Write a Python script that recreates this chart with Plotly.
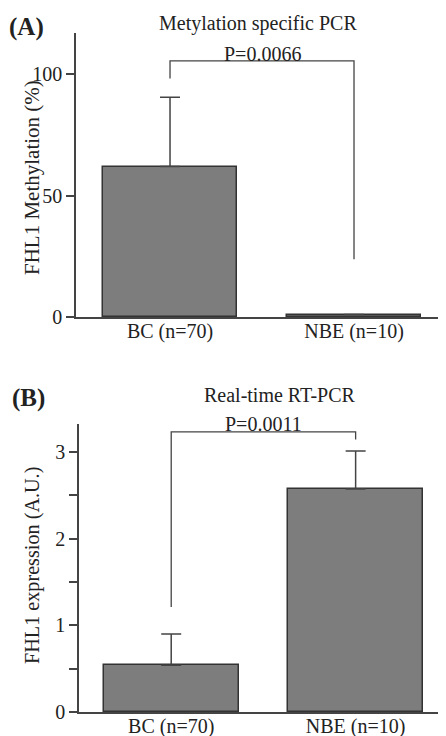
import plotly.graph_objects as go

# ---- data ----
categories = ["BC (n=70)", "NBE (n=10)"]
cat_pos = [0, 1]

meth_values = [62.0, 1.0]
meth_err_up = [28.5, 0.0]
meth_bracket_y = [98.3, 105.5, 105.5, 23.8]
meth_p = "P=0.0066"
meth_ticks = [0, 50, 100]

expr_values = [0.54, 2.57]
expr_err_up = [0.36, 0.44]
expr_bracket_y = [1.21, 3.23, 3.23, 3.14]
expr_p = "P=0.0011"
expr_ticks = [0, 0.5, 1, 1.5, 2, 2.5, 3]
expr_ticktext = ["0", "", "1", "", "2", "", "3"]

FONT = "Liberation Serif"
BAR = "#7d7d7d"
EDGE = "#333333"
LINE = "#444444"
TXT = "#222222"
# the page body has an 8px margin; the figure is sized/placed to compensate
OFF = 8
W, H = 446 - OFF, 736 - OFF

def fx(px):
    return (px - OFF) / W

def fy(py):
    return 1 - (py - OFF) / H

fig = go.Figure()

def add_panel(xa, ya, values, err, bracket_y):
    fig.add_trace(go.Bar(
        x=cat_pos, y=values, width=0.73,
        marker=dict(color=BAR, line=dict(color=EDGE, width=1.5)),
        error_y=dict(type="data", symmetric=False, array=err,
                     arrayminus=[0] * len(err), color=LINE,
                     thickness=1.5, width=10, visible=True),
        xaxis=xa, yaxis=ya, showlegend=False, hoverinfo="skip"))
    fig.add_trace(go.Scatter(
        x=[cat_pos[0], cat_pos[0], cat_pos[1], cat_pos[1]], y=bracket_y,
        mode="lines", line=dict(color=LINE, width=1.3),
        xaxis=xa, yaxis=ya, showlegend=False, hoverinfo="skip"))

add_panel("x", "y", meth_values, meth_err_up, meth_bracket_y)
add_panel("x2", "y2", expr_values, expr_err_up, expr_bracket_y)

axis_common = dict(showline=True, linecolor=LINE, linewidth=1.5,
                   showgrid=False, zeroline=False, automargin=False,
                   tickfont=dict(family=FONT, size=20, color=TXT))

fig.update_layout(
    width=W, height=H,
    margin=dict(l=0, r=0, t=0, b=0),
    plot_bgcolor="white", paper_bgcolor="white",
    bargap=0,
    xaxis=dict(domain=[fx(76), 1], range=[-0.511, 1.5], anchor="y",
               tickvals=cat_pos, ticktext=categories, ticks="",
               ticklabelstandoff=-5, **axis_common),
    yaxis=dict(domain=[fy(317), fy(33)], range=[0, 117], anchor="x",
               tickvals=meth_ticks, ticks="outside", ticklen=8, tickcolor=LINE,
               tickwidth=1.5, **axis_common),
    xaxis2=dict(domain=[fx(79), 1], range=[-0.5, 1.49], anchor="y2",
                tickvals=cat_pos, ticktext=categories, ticks="",
                ticklabelstandoff=-5, **axis_common),
    yaxis2=dict(domain=[fy(712), fy(424)], range=[0, 3.32], anchor="x2",
                tickvals=expr_ticks, ticktext=expr_ticktext, ticks="outside",
                ticklen=8, tickcolor=LINE, tickwidth=1.5, **axis_common),
)

def px_ann(text, x, y, size=20, bold=False, angle=0, xanchor="center"):
    fig.add_annotation(text=f"<b>{text}</b>" if bold else text,
                       x=fx(x), y=fy(y), xref="paper", yref="paper",
                       showarrow=False, textangle=angle,
                       font=dict(family=FONT, size=size, color=TXT),
                       xanchor=xanchor, yanchor="middle")

ann_font = dict(family=FONT, size=20, color=TXT)

px_ann("(A)", 7, 27, size=25, bold=True, xanchor="left")
px_ann("Metylation specific PCR", 258, 23, size=20)
px_ann("FHL1 Methylation (%)", 32, 178, size=21, angle=-90)
fig.add_annotation(text=meth_p, x=0.5, y=meth_bracket_y[1], xref="x", yref="y",
                   showarrow=False, font=ann_font, yanchor="bottom", yshift=-6)

px_ann("(B)", 10, 398, size=25, bold=True, xanchor="left")
px_ann("Real-time RT-PCR", 280, 395, size=20)
px_ann("FHL1 expression (A.U.)", 32, 566, size=20.2, angle=-90)
fig.add_annotation(text=expr_p, x=0.5, y=expr_bracket_y[1], xref="x2", yref="y2",
                   showarrow=False, font=ann_font, yanchor="bottom", yshift=-5)

fig.write_html("out.html")
